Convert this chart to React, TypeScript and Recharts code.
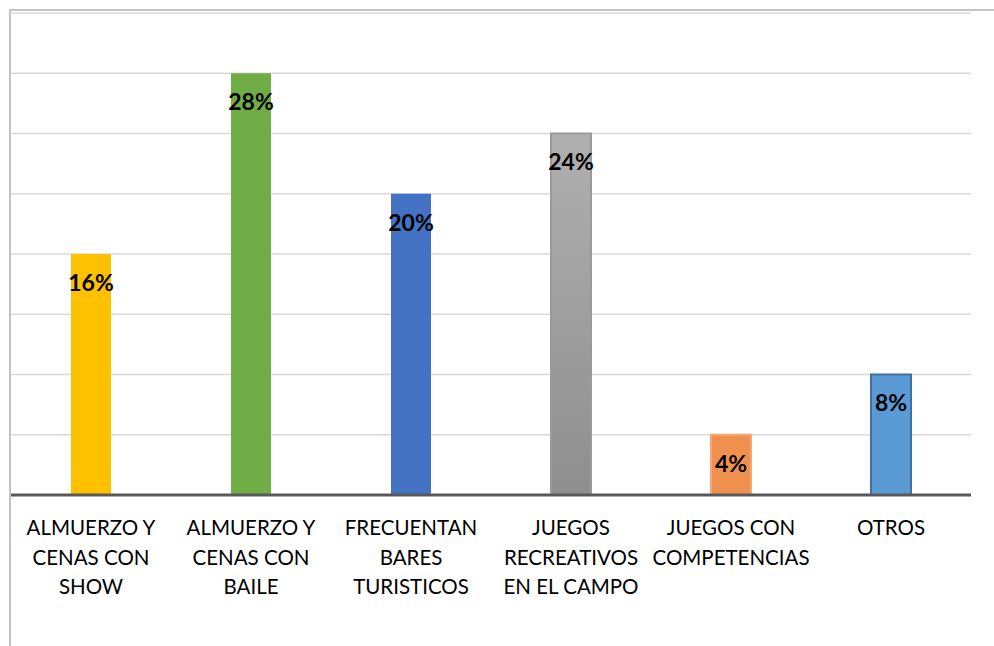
import React from "react";
import { BarChart, Bar, XAxis, YAxis, CartesianGrid, Cell, LabelList } from "recharts";

const categories = [
  "ALMUERZO Y CENAS CON SHOW",
  "ALMUERZO Y CENAS CON BAILE",
  "FRECUENTAN BARES TURISTICOS",
  "JUEGOS RECREATIVOS EN EL CAMPO",
  "JUEGOS CON COMPETENCIAS",
  "OTROS",
];
const tickLines = [
  ["ALMUERZO Y", "CENAS CON", "SHOW"],
  ["ALMUERZO Y", "CENAS CON", "BAILE"],
  ["FRECUENTAN", "BARES", "TURISTICOS"],
  ["JUEGOS", "RECREATIVOS", "EN EL CAMPO"],
  ["JUEGOS CON", "COMPETENCIAS"],
  ["OTROS"],
];
const values = [16, 28, 20, 24, 4, 8];
const yTicks = [0, 4, 8, 12, 16, 20, 24, 28, 32];

const fills = ["#FFC000", "#70AD47", "#4472C4", "url(#grayGrad)", "#F0904F", "#5B9BD5"];
const strokes = ["none", "none", "none", "#9a9a9a", "#F4A776", "#41719C"];

const data = categories.map((c, i) => ({ name: c, idx: i, value: values[i] }));

const FONT = "Lato, 'Open Sans', sans-serif";

const Tick = (props: any) => {
  const { x, y, payload } = props;
  const lines = tickLines[payload.index] || [payload.value];
  return (
    <g>
      {lines.map((l: string, i: number) => (
        <text
          key={i}
          x={x}
          y={y + 27 + i * 29.5}
          textAnchor="middle"
          dominantBaseline="middle"
          fontFamily={FONT}
          fontSize={20.5}
          fill="#000"
        >
          {l}
        </text>
      ))}
    </g>
  );
};

const ValueLabel = (props: any) => {
  const { x, y, width, value } = props;
  return (
    <text
      x={x + width / 2}
      y={y + 31}
      textAnchor="middle"
      dominantBaseline="middle"
      fontFamily={FONT}
      fontWeight="bold"
      fontSize={23}
      fill="#000"
    >
      {value}%
    </text>
  );
};

export default function App() {
  return (
    <div style={{ position: "absolute", left: 0, top: 0, width: 994, height: 646, background: "#fff" }}>
      <div
        style={{
          position: "absolute",
          left: 9,
          top: 9,
          right: 0,
          bottom: 0,
          borderTop: "2px solid #c4c4c4",
          borderLeft: "2px solid #c4c4c4",
        }}
      />
      <div style={{ position: "absolute", left: 0, top: 0 }}>
        <BarChart
          width={994}
          height={646}
          data={data}
          margin={{ top: 13, right: 23, left: 11, bottom: 0 }}
          barSize={40}
        >
          <defs>
            <linearGradient id="grayGrad" x1="0" y1="0" x2="0" y2="1">
              <stop offset="0%" stopColor="#b0b0b0" />
              <stop offset="100%" stopColor="#8e8e8e" />
            </linearGradient>
          </defs>
          <CartesianGrid vertical={false} stroke="#d9d9d9" strokeWidth={1.5} />
          <YAxis hide domain={[0, 32]} ticks={yTicks} />
          <XAxis
            dataKey="name"
            interval={0}
            tickLine={false}
            axisLine={{ stroke: "#595959", strokeWidth: 3 }}
            tick={<Tick />}
            height={151}
          />
          <Bar dataKey="value" isAnimationActive={false}>
            {data.map((d, i) => (
              <Cell key={i} fill={fills[i]} stroke={strokes[i]} strokeWidth={2} />
            ))}
            <LabelList dataKey="value" content={<ValueLabel />} />
          </Bar>
        </BarChart>
      </div>
    </div>
  );
}
